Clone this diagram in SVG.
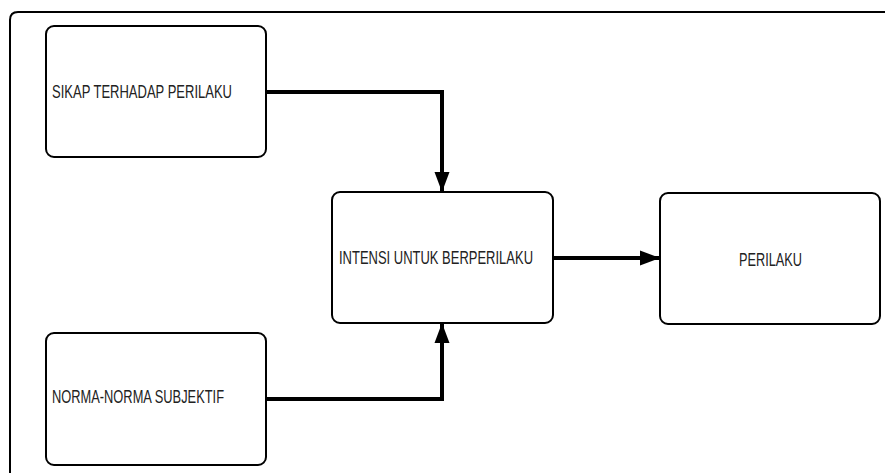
<svg xmlns="http://www.w3.org/2000/svg" width="885" height="473" viewBox="0 0 885 473">
<defs>
<style>
.box{fill:#fff;stroke:#000;stroke-width:2}
.lbl{font-family:"Liberation Sans",Arial,sans-serif;font-size:17.5px;fill:#222}
.conn{fill:none;stroke:#000;stroke-width:4}
.frame{fill:none;stroke:#000;stroke-width:2}
</style>
<marker id="arr" markerUnits="userSpaceOnUse" markerWidth="20" markerHeight="20" viewBox="0 0 20 20" refX="20" refY="10" orient="auto">
<path d="M0,2.5 L20,10 L0,17.5 Z" fill="#000"/>
</marker>
</defs>
<rect width="885" height="473" fill="#fff"/>
<path class="frame" d="M10,473 V20 Q10,12 18,12 H885"/>
<g id="connectors">
<path class="conn" d="M266,92 H442 V192" marker-end="url(#arr)"/>
<path class="conn" d="M266,399 H442 V323" marker-end="url(#arr)"/>
<path class="conn" d="M553,258 H660" marker-end="url(#arr)"/>
</g>
<g id="sikap">
<rect class="box" x="46" y="26" width="220" height="131" rx="8"/>
<text class="lbl" x="52" y="98" textLength="180" lengthAdjust="spacingAndGlyphs">SIKAP TERHADAP PERILAKU</text>
</g>
<g id="norma">
<rect class="box" x="46" y="333" width="220" height="132" rx="8"/>
<text class="lbl" x="52" y="403" textLength="172" lengthAdjust="spacingAndGlyphs">NORMA-NORMA SUBJEKTIF</text>
</g>
<g id="intensi">
<rect class="box" x="332" y="192" width="221" height="131" rx="8"/>
<text class="lbl" x="339" y="264" textLength="194" lengthAdjust="spacingAndGlyphs">INTENSI UNTUK BERPERILAKU</text>
</g>
<g id="perilaku">
<rect class="box" x="660" y="193" width="220" height="131" rx="8"/>
<text class="lbl" x="739" y="266" textLength="63" lengthAdjust="spacingAndGlyphs">PERILAKU</text>
</g>
</svg>
